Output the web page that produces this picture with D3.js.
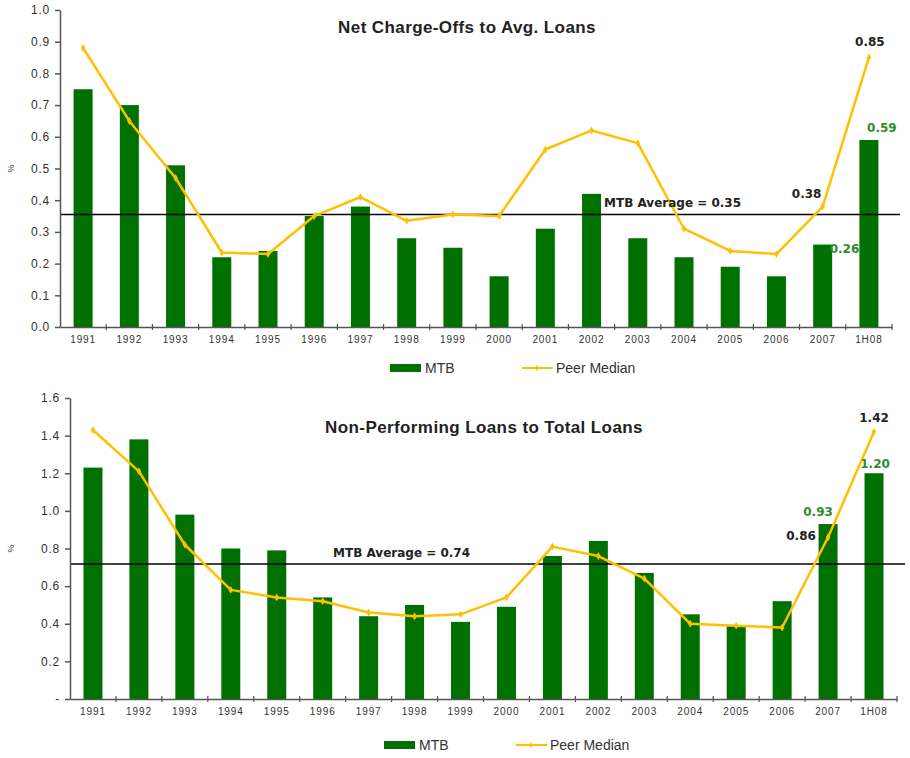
<!DOCTYPE html>
<html>
<head>
<meta charset="utf-8">
<script src="https://cdn.jsdelivr.net/npm/d3@7"></script>
<style>
  body { margin: 0; background: #fff; }
  svg text { font-family: "Liberation Sans", Arial, sans-serif; }
  .tick text { fill: #333; }
</style>
</head>
<body>
<div id="chart"></div>
<script>
// categories shared by both panels
const years = ["1991","1992","1993","1994","1995","1996","1997","1998","1999","2000",
               "2001","2002","2003","2004","2005","2006","2007","1H08"];

// panel 1: net charge-offs to avg. loans
const ncoMTB  = [0.75,0.70,0.51,0.22,0.24,0.35,0.38,0.28,0.25,0.16,0.31,0.42,0.28,0.22,0.19,0.16,0.26,0.59];
const ncoPeer = [0.88,0.65,0.47,0.235,0.23,0.35,0.41,0.335,0.355,0.35,0.56,0.62,0.58,0.31,0.24,0.23,0.38,0.85];
const ncoAvg = 0.355;
const ncoTicks = [0,0.1,0.2,0.3,0.4,0.5,0.6,0.7,0.8,0.9,1.0];

// panel 2: non-performing loans to total loans
const npaMTB  = [1.23,1.38,0.98,0.80,0.79,0.54,0.44,0.50,0.41,0.49,0.76,0.84,0.67,0.45,0.39,0.52,0.93,1.20];
const npaPeer = [1.43,1.21,0.82,0.58,0.54,0.52,0.46,0.44,0.45,0.54,0.81,0.76,0.64,0.40,0.39,0.38,0.86,1.42];
const npaAvg = 0.718;
const npaTicks = [0,0.2,0.4,0.6,0.8,1.0,1.2,1.4,1.6];

const green = "#007000";
const gold = "#ffc000";
const wideFont = "'DejaVu Sans', Verdana, sans-serif";

const svg = d3.select("#chart").append("svg")
    .attr("width", 910)
    .attr("height", 758);

function panel(opt) {
  const xb = d3.scaleBand().domain(years).range([opt.left, opt.right]);
  const y = d3.scaleLinear().domain([0, opt.max]).range([opt.bottom, opt.top]);
  const g = svg.append("g");

  // bars
  g.selectAll("rect.bar")
    .data(opt.mtb)
    .join("rect")
      .attr("class", "bar")
      .attr("x", (d, i) => xb(years[i]) + xb.bandwidth() / 2 - 9.5)
      .attr("width", 19)
      .attr("y", d => y(d))
      .attr("height", d => y(0) - y(d))
      .attr("fill", green);

  // average line
  g.append("line")
    .attr("x1", opt.left).attr("x2", opt.right + 8)
    .attr("y1", y(opt.avg)).attr("y2", y(opt.avg))
    .attr("stroke", "#000").attr("stroke-width", 1.5);

  // peer line
  const line = d3.line()
    .x((d, i) => xb(years[i]) + xb.bandwidth() / 2)
    .y(d => y(d));
  g.append("path")
    .datum(opt.peer)
    .attr("d", line)
    .attr("fill", "none")
    .attr("stroke", gold)
    .attr("stroke-width", 2.5)
    .attr("stroke-linejoin", "round");
  g.selectAll("path.mk")
    .data(opt.peer)
    .join("path")
      .attr("class", "mk")
      .attr("transform", (d, i) => `translate(${xb(years[i]) + xb.bandwidth() / 2},${y(d)})`)
      .attr("d", d3.symbol(d3.symbolDiamond, 18))
      .attr("fill", gold);

  // axes
  const yAxis = d3.axisLeft(y).tickValues(opt.ticks).tickSize(5).tickSizeOuter(0)
    .tickFormat(opt.yfmt);
  const ya = g.append("g").attr("transform", `translate(${opt.left},0)`).call(yAxis);
  ya.select(".domain").attr("stroke", "#555").attr("stroke-width", 1.5);
  ya.selectAll(".tick line").attr("stroke", "#555").attr("stroke-width", 1.5);
  ya.selectAll(".tick text").attr("font-size", 12).attr("letter-spacing", 0.8).attr("dx", -2);

  const xa = g.append("g").attr("transform", `translate(0,${y(0)})`)
    .call(d3.axisBottom(xb).tickSize(0).tickPadding(9));
  xa.select(".domain").attr("stroke", "#555").attr("stroke-width", 1.5);
  xa.selectAll(".tick text").attr("font-size", 10).attr("letter-spacing", 0.9);
  // tick marks between categories
  xa.selectAll("line.sep")
    .data(years)
    .join("line")
      .attr("class", "sep")
      .attr("x1", d => xb(d) + xb.bandwidth())
      .attr("x2", d => xb(d) + xb.bandwidth())
      .attr("y1", -3).attr("y2", 3)
      .attr("stroke", "#555").attr("stroke-width", 1.2);

  // y label
  g.append("text")
    .attr("transform", `translate(14,${(opt.top + opt.bottom) / 2}) rotate(-90)`)
    .attr("text-anchor", "middle")
    .attr("font-size", 9)
    .attr("fill", "#333")
    .text("%");

  // title
  g.append("text")
    .attr("x", opt.titleX).attr("y", opt.titleY)
    .attr("text-anchor", "middle")
    .attr("font-size", 17)
    .attr("letter-spacing", 0.4)
    .attr("font-weight", "bold")
    .attr("fill", "#222")
    .text(opt.title);

  // average label
  g.append("text")
    .attr("x", opt.avgLabelX).attr("y", y(opt.avg) - 7)
    .style("font-family", wideFont)
    .attr("font-size", 12)
    .attr("font-weight", "bold")
    .attr("fill", "#222")
    .text(opt.avgLabel);

  // value labels
  g.selectAll("text.val")
    .data(opt.labels)
    .join("text")
      .attr("class", "val")
      .attr("x", d => xb(years[d.i]) + xb.bandwidth() / 2 + d.dx)
      .attr("y", d => y(d.v) + d.dy)
      .attr("text-anchor", d => d.anchor)
      .style("font-family", wideFont)
      .attr("font-size", 12)
      .attr("font-weight", "bold")
      .attr("fill", d => d.c)
      .text(d => d.v.toFixed(2));

  // legend
  const lg = g.append("g").attr("transform", `translate(${opt.legX},${opt.legY})`);
  lg.append("rect").attr("x", 0).attr("y", -4).attr("width", 31).attr("height", 8).attr("fill", green);
  lg.append("text").attr("x", 35).attr("y", 5).attr("font-size", 14).attr("fill", "#333").text("MTB");
  lg.append("line").attr("x1", 132).attr("x2", 163).attr("y1", 0).attr("y2", 0)
    .attr("stroke", gold).attr("stroke-width", 2);
  lg.append("path").attr("transform", "translate(147,0)")
    .attr("d", d3.symbol(d3.symbolCross, 14)).attr("fill", gold);
  lg.append("text").attr("x", 166).attr("y", 5).attr("font-size", 14).attr("fill", "#333").text("Peer Median");
}

panel({
  left: 60, right: 892, top: 10, bottom: 327, max: 1.0,
  mtb: ncoMTB, peer: ncoPeer, avg: ncoAvg, ticks: ncoTicks,
  yfmt: d3.format(".1f"),
  title: "Net Charge-Offs to Avg. Loans", titleX: 467, titleY: 33,
  avgLabel: "MTB Average = 0.35", avgLabelX: 604,
  labels: [
    {i: 17, v: ncoPeer[17], dx: 1, dy: -12, anchor: "middle", c: "#222"},
    {i: 17, v: ncoMTB[17], dx: 13, dy: -8, anchor: "middle", c: "#2e8b2e"},
    {i: 16, v: ncoPeer[16], dx: -16, dy: -9, anchor: "middle", c: "#222"},
    {i: 16, v: ncoMTB[16], dx: 7, dy: 8, anchor: "start", c: "#2e8b2e"}
  ],
  legX: 390, legY: 368
});

panel({
  left: 70, right: 897, top: 398, bottom: 699, max: 1.6,
  mtb: npaMTB, peer: npaPeer, avg: npaAvg, ticks: npaTicks,
  yfmt: d => d === 0 ? "-" : d3.format(".1f")(d),
  title: "Non-Performing Loans to Total Loans", titleX: 484, titleY: 433,
  avgLabel: "MTB Average = 0.74", avgLabelX: 333,
  labels: [
    {i: 17, v: npaPeer[17], dx: 0, dy: -10, anchor: "middle", c: "#222"},
    {i: 17, v: npaMTB[17], dx: 1, dy: -5, anchor: "middle", c: "#2e8b2e"},
    {i: 16, v: npaMTB[16], dx: -10, dy: -8, anchor: "middle", c: "#2e8b2e"},
    {i: 16, v: npaPeer[16], dx: -27, dy: 3, anchor: "middle", c: "#222"}
  ],
  legX: 384, legY: 745
});
</script>
</body>
</html>
